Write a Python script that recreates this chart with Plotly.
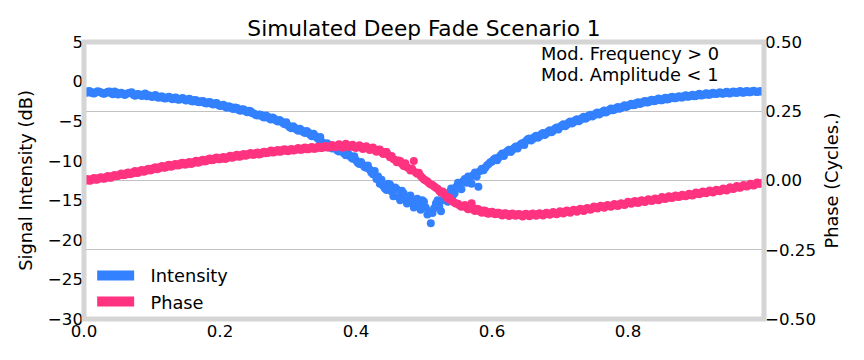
import plotly.graph_objects as go

# ---------------- data ----------------
x_values = [round(i * 0.0025, 4) for i in range(400)]

intensity_db = [
    -1.15, -1.33, -1.42, -1.20, -1.28, -1.48, -1.50, -1.36, -1.22, -1.29, -1.38, -1.52, -1.55, -1.41, -1.30, -1.24, -1.47, -1.60, -1.25, -1.38,
    -1.62, -1.50, -1.40, -1.58, -1.70, -1.55, -1.48, -1.42, -1.35, -1.66, -1.78, -1.60, -1.58, -1.72, -1.82, -1.64, -1.50, -1.85, -1.72, -1.80,
    -1.95, -1.82, -1.70, -1.98, -2.05, -1.90, -1.88, -2.12, -2.15, -2.00, -1.92, -2.08, -2.22, -2.05, -2.00, -2.28, -2.30, -2.16, -2.08, -2.25,
    -2.40, -2.28, -2.18, -2.45, -2.52, -2.32, -2.35, -2.58, -2.62, -2.50, -2.45, -2.70, -2.78, -2.62, -2.58, -2.80, -2.90, -2.75, -2.72, -2.95,
    -3.10, -3.00, -2.92, -3.18, -3.30, -3.12, -3.18, -3.40, -3.45, -3.28, -3.35, -3.58, -3.68, -3.50, -3.52, -3.75, -3.88, -3.70, -3.75, -4.00,
    -4.05, -4.22, -4.30, -4.15, -4.20, -4.45, -4.55, -4.30, -4.42, -4.68, -4.80, -4.55, -4.70, -4.92, -5.05, -4.85, -5.00, -5.25, -5.38, -5.15,
    -5.55, -5.78, -5.90, -5.65, -5.82, -6.05, -6.20, -5.95, -6.15, -6.38, -6.50, -6.25, -6.45, -6.72, -6.90, -6.60, -6.85, -7.10, -7.30, -7.00,
    -7.65, -7.92, -8.05, -7.80, -8.00, -8.28, -8.45, -8.15, -8.40, -8.70, -8.85, -8.55, -8.80, -9.10, -9.30, -8.95, -9.25, -9.55, -9.75, -9.45,
    -9.95, -10.25, -10.40, -10.15, -10.50, -10.80, -10.90, -10.60, -11.10, -11.50, -11.70, -11.30, -12.30, -12.00, -12.90, -12.40, -13.20, -13.50, -13.70, -12.90,
    -13.00, -13.90, -14.50, -13.40, -13.60, -14.60, -15.00, -13.80, -14.10, -14.90, -15.40, -14.60, -14.40, -15.20, -15.90, -15.50, -14.80, -15.60, -16.20, -15.00,
    -15.20, -15.90, -16.80, -16.40, -17.90, -16.60, -16.00, -15.40, -15.00, -15.80, -16.40, -15.00, -14.30, -14.80, -15.20, -14.00, -13.50, -14.40, -14.10, -13.30,
    -12.80, -13.20, -13.60, -12.60, -12.30, -12.80, -12.00, -12.20, -12.90, -11.80, -11.50, -12.00, -13.30, -11.30, -11.00, -11.20, -10.90, -10.60, -10.40, -10.20,
    -10.10, -9.85, -9.70, -9.95, -9.60, -9.35, -9.10, -9.40, -9.00, -8.80, -8.60, -8.90, -8.65, -8.40, -8.20, -8.45, -8.10, -7.90, -7.75, -8.00,
    -7.50, -7.30, -7.20, -7.45, -7.25, -7.00, -6.85, -7.10, -6.90, -6.65, -6.50, -6.75, -6.55, -6.30, -6.15, -6.40, -6.20, -5.95, -5.80, -6.05,
    -5.75, -5.55, -5.40, -5.65, -5.45, -5.20, -5.05, -5.30, -5.15, -4.90, -4.75, -5.00, -4.85, -4.60, -4.45, -4.70, -4.55, -4.30, -4.20, -4.40,
    -4.25, -4.05, -3.90, -4.15, -4.00, -3.80, -3.65, -3.90, -3.75, -3.55, -3.40, -3.62, -3.55, -3.35, -3.20, -3.42, -3.35, -3.15, -3.00, -3.22,
    -3.10, -2.92, -2.80, -3.00, -2.95, -2.72, -2.60, -2.82, -2.75, -2.55, -2.45, -2.65, -2.60, -2.40, -2.30, -2.50, -2.45, -2.28, -2.15, -2.35,
    -2.35, -2.18, -2.05, -2.25, -2.20, -2.02, -1.92, -2.12, -2.10, -1.95, -1.85, -2.02, -2.00, -1.82, -1.72, -1.92, -1.90, -1.75, -1.65, -1.85,
    -1.82, -1.68, -1.55, -1.75, -1.72, -1.60, -1.48, -1.66, -1.65, -1.52, -1.40, -1.58, -1.58, -1.46, -1.35, -1.52, -1.55, -1.42, -1.30, -1.48,
    -1.50, -1.36, -1.25, -1.42, -1.45, -1.30, -1.20, -1.38, -1.40, -1.26, -1.18, -1.34, -1.35, -1.22, -1.15, -1.30, -1.32, -1.24, -1.20, -1.28,
]

phase_cycles = [
    -0.004, 0.003, 0.005, -0.001, 0.000, 0.006, 0.009, 0.003, 0.004, 0.010, 0.012, 0.007, 0.006, 0.013, 0.016, 0.010, 0.010, 0.017, 0.020, 0.015,
    0.016, 0.022, 0.025, 0.019, 0.020, 0.026, 0.029, 0.023, 0.024, 0.031, 0.034, 0.027, 0.028, 0.035, 0.038, 0.032, 0.033, 0.040, 0.042, 0.036,
    0.039, 0.045, 0.048, 0.041, 0.043, 0.050, 0.052, 0.046, 0.047, 0.054, 0.057, 0.050, 0.051, 0.058, 0.060, 0.054, 0.055, 0.062, 0.064, 0.058,
    0.058, 0.064, 0.067, 0.060, 0.062, 0.068, 0.071, 0.064, 0.066, 0.072, 0.075, 0.069, 0.070, 0.077, 0.079, 0.073, 0.074, 0.080, 0.083, 0.077,
    0.077, 0.082, 0.085, 0.078, 0.080, 0.086, 0.089, 0.082, 0.084, 0.090, 0.093, 0.086, 0.087, 0.093, 0.096, 0.089, 0.091, 0.097, 0.099, 0.093,
    0.093, 0.098, 0.101, 0.094, 0.096, 0.101, 0.104, 0.098, 0.099, 0.105, 0.108, 0.101, 0.102, 0.107, 0.110, 0.104, 0.105, 0.111, 0.113, 0.107,
    0.106, 0.111, 0.114, 0.108, 0.109, 0.114, 0.117, 0.111, 0.111, 0.116, 0.119, 0.113, 0.113, 0.118, 0.121, 0.115, 0.115, 0.120, 0.123, 0.117,
    0.117, 0.122, 0.125, 0.119, 0.119, 0.124, 0.128, 0.121, 0.120, 0.126, 0.131, 0.123, 0.118, 0.125, 0.133, 0.122, 0.121, 0.126, 0.129, 0.120,
    0.117, 0.123, 0.127, 0.119, 0.114, 0.121, 0.124, 0.116, 0.110, 0.117, 0.119, 0.110, 0.104, 0.111, 0.112, 0.102, 0.096, 0.103, 0.103, 0.092,
    0.084, 0.088, 0.078, 0.074, 0.066, 0.072, 0.070, 0.060, 0.052, 0.062, 0.048, 0.044, 0.036, 0.042, 0.070, 0.030, 0.024, 0.028, 0.016, 0.010,
    0.004, 0.000, -0.004, -0.010, -0.014, -0.016, -0.022, -0.026, -0.030, -0.038, -0.044, -0.040, -0.050, -0.058, -0.066, -0.062, -0.072, -0.076, -0.080, -0.084,
    -0.084, -0.090, -0.095, -0.092, -0.088, -0.098, -0.104, -0.100, -0.082, -0.106, -0.110, -0.102, -0.104, -0.112, -0.116, -0.108, -0.109, -0.118, -0.120, -0.114,
    -0.113, -0.119, -0.122, -0.116, -0.116, -0.122, -0.126, -0.119, -0.118, -0.124, -0.128, -0.121, -0.119, -0.125, -0.127, -0.122, -0.121, -0.126, -0.130, -0.123,
    -0.120, -0.125, -0.129, -0.122, -0.119, -0.124, -0.127, -0.121, -0.118, -0.123, -0.126, -0.120, -0.116, -0.121, -0.124, -0.118, -0.114, -0.119, -0.122, -0.116,
    -0.111, -0.116, -0.119, -0.112, -0.108, -0.113, -0.116, -0.110, -0.106, -0.110, -0.113, -0.106, -0.102, -0.107, -0.110, -0.103, -0.099, -0.104, -0.106, -0.100,
    -0.094, -0.099, -0.101, -0.095, -0.091, -0.096, -0.098, -0.092, -0.088, -0.093, -0.095, -0.089, -0.085, -0.090, -0.092, -0.086, -0.082, -0.087, -0.088, -0.083,
    -0.077, -0.082, -0.084, -0.078, -0.074, -0.079, -0.081, -0.075, -0.071, -0.076, -0.078, -0.072, -0.068, -0.072, -0.074, -0.069, -0.065, -0.069, -0.071, -0.066,
    -0.060, -0.065, -0.067, -0.061, -0.057, -0.062, -0.063, -0.058, -0.054, -0.059, -0.060, -0.055, -0.051, -0.056, -0.057, -0.052, -0.048, -0.053, -0.054, -0.049,
    -0.043, -0.048, -0.050, -0.044, -0.040, -0.045, -0.046, -0.041, -0.036, -0.041, -0.043, -0.038, -0.033, -0.038, -0.039, -0.034, -0.029, -0.034, -0.036, -0.031,
    -0.024, -0.029, -0.031, -0.025, -0.020, -0.025, -0.026, -0.021, -0.016, -0.021, -0.022, -0.017, -0.012, -0.017, -0.018, -0.013, -0.007, -0.012, -0.012, -0.008,
]

series_names = ["Intensity", "Phase"]

x_tick_vals = [0.0, 0.2, 0.4, 0.6, 0.8]
x_tick_text = ["0.0", "0.2", "0.4", "0.6", "0.8"]
y_tick_vals = [5, 0, -5, -10, -15, -20, -25, -30]
y_tick_text = ["5", "0", "\u22125", "\u221210", "\u221215", "\u221220", "\u221225", "\u221230"]
y2_tick_vals = [0.5, 0.25, 0.0, -0.25, -0.5]
y2_tick_text = ["0.50", "0.25", "0.00", "\u22120.25", "\u22120.50"]

title_text = "Simulated Deep Fade Scenario 1"
left_title = "Signal Intensity (dB)"
right_title = "Phase (Cycles.)"
note_lines = ["Mod. Frequency &gt; 0", "Mod. Amplitude &lt; 1"]

# ---------------- style ----------------
BLUE = "#3381ff"
PINK = "#ff3380"
BORDER = "#d5d5d5"
GRID = "#c2c2c2"
FONT = "DejaVu Sans"
TICK_FS = 16.67
TEXT_FS = 17.8
NBSP = "\u00a0"

fig = go.Figure()
fig.add_trace(go.Scatter(
    x=x_values, y=intensity_db, mode="markers", yaxis="y",
    marker=dict(color=BLUE, size=8, line=dict(width=0)),
    showlegend=False, hoverinfo="skip"))
fig.add_trace(go.Scatter(
    x=x_values, y=phase_cycles, mode="markers", yaxis="y2",
    marker=dict(color=PINK, size=8, line=dict(width=0)),
    showlegend=False, hoverinfo="skip"))
# legend proxies (rectangular patches)
fig.add_trace(go.Scatter(
    x=[None], y=[None], mode="lines", name=NBSP * 2 + series_names[0], yaxis="y",
    line=dict(color=BLUE, width=14), legendgroup="a"))
fig.add_trace(go.Scatter(
    x=[None], y=[None], mode="lines", name=NBSP * 2 + series_names[1], yaxis="y2",
    line=dict(color=PINK, width=14), legendgroup="b"))

fig.update_layout(
    width=864, height=360,
    margin=dict(l=84, r=100, t=42, b=41, autoexpand=False),
    paper_bgcolor="white", plot_bgcolor="white",
    font=dict(family=FONT, size=TICK_FS, color="black"),
    title=dict(text=title_text, x=424 / 864, xanchor="center",
               y=1 - 28 / 360, yref="container", yanchor="middle",
               font=dict(size=21.7, color="black")),
    xaxis=dict(range=[0, 1.0], tickvals=x_tick_vals, ticktext=x_tick_text,
               showgrid=False, zeroline=False, showline=False, ticks="",
               automargin=False),
    yaxis=dict(range=[-30, 5], tickvals=y_tick_vals, ticktext=y_tick_text,
               showgrid=False, zeroline=False, showline=False, ticks="",
               automargin=False,
               title=dict(text=left_title, standoff=10,
                          font=dict(size=TEXT_FS))),
    yaxis2=dict(range=[-0.5, 0.5], tickvals=y2_tick_vals, ticktext=y2_tick_text,
                overlaying="y", side="right",
                showgrid=True, gridcolor=GRID, gridwidth=1,
                zeroline=False, showline=False, ticks="",
                automargin=False,
                title=dict(text=right_title, standoff=10,
                           font=dict(size=TEXT_FS))),
    legend=dict(x=0.012, y=-0.005, xanchor="left", yanchor="bottom",
                bgcolor="rgba(0,0,0,0)", tracegroupgap=0, itemwidth=37,
                font=dict(size=TEXT_FS)),
    shapes=[dict(type="rect", xref="paper", yref="paper", x0=0, x1=1, y0=0, y1=1,
                 line=dict(color=BORDER, width=5), fillcolor="rgba(0,0,0,0)",
                 layer="above")],
    annotations=[
        dict(text=note_lines[0], xref="paper", yref="paper",
             x=(539 - 84) / 680, y=1 - (54 - 42) / 277, xanchor="left", yanchor="middle",
             align="left", showarrow=False, font=dict(size=TEXT_FS, color="black")),
        dict(text=note_lines[1], xref="paper", yref="paper",
             x=(539 - 84) / 680, y=1 - (74 - 42) / 277, xanchor="left", yanchor="middle",
             align="left", showarrow=False, font=dict(size=TEXT_FS, color="black")),
    ],
)

fig.write_html(
    "out.html",
    config={"displayModeBar": False},
    post_script="document.body.style.margin='0px';document.body.style.padding='0px';"
                "document.body.style.overflow='hidden';",
)
